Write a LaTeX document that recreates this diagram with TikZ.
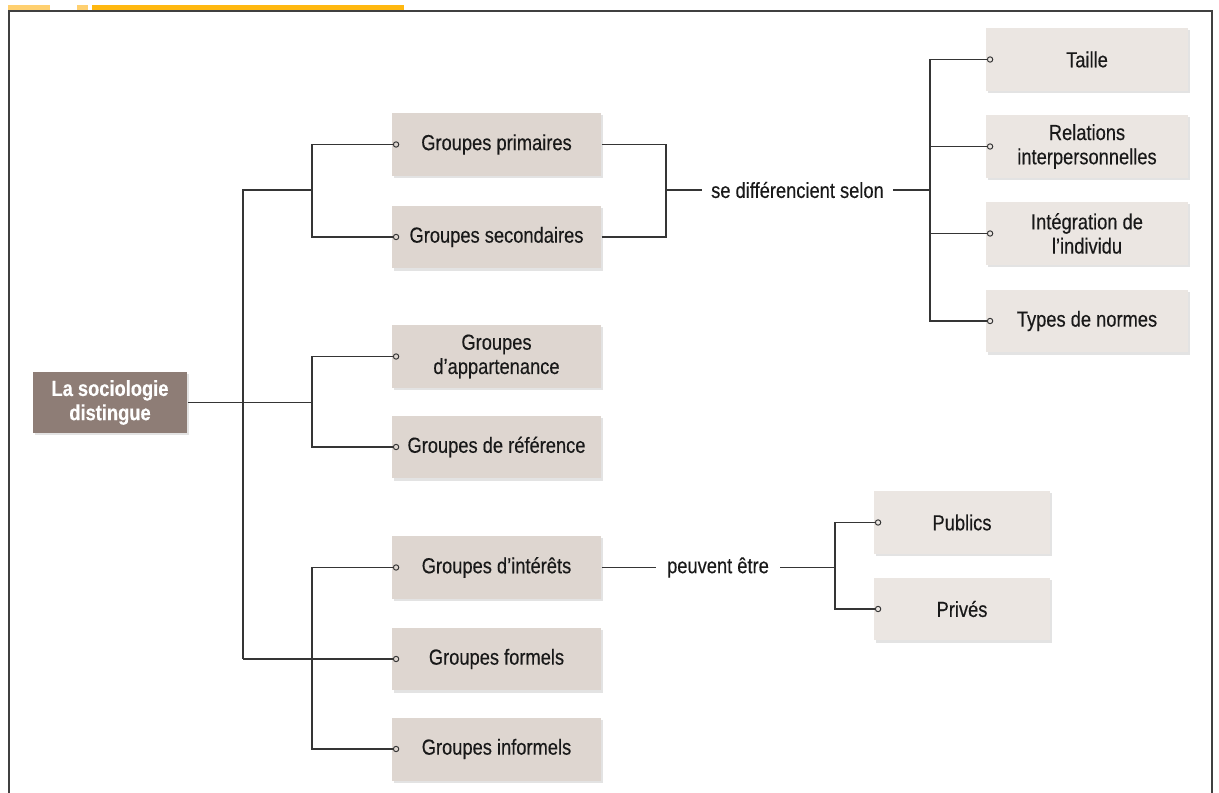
\documentclass[tikz,border=0pt]{standalone}
\usepackage{fontspec}
\setmainfont{Liberation Sans}[FakeStretch=0.84, FakeBold=0.3]
\usetikzlibrary{arrows.meta,shadows}

\definecolor{rootcol}{HTML}{8E7D76}
\definecolor{boxa}{HTML}{DED6D0}
\definecolor{boxb}{HTML}{EBE6E2}
\definecolor{linecol}{HTML}{353535}
\definecolor{stripa}{HTML}{FFD070}
\definecolor{stripb}{HTML}{FFB810}
\newcommand{\shadinga}{boxa}
\newcommand{\shadingb}{boxb}
\newcommand{\txtsize}{\fontsize{12.4}{13.8}\selectfont}
\tikzset{every path/.style={line width=.8pt}}
\tikzset{
  grp/.style={fill=\shadinga, minimum width=4.18cm, minimum height=1.26cm, align=center,
    font=\txtsize, text=black!90, drop shadow={shadow xshift=1.2pt, shadow yshift=-1.2pt, fill=black!22}},
  crit/.style={grp, fill=\shadingb, minimum width=4.04cm},
  kind/.style={grp, fill=\shadingb, minimum width=3.52cm},
  rootbox/.style={fill=rootcol, text=white, minimum width=3.08cm, minimum height=1.22cm, align=center,
    font=\txtsize\bfseries, drop shadow={shadow xshift=1.2pt, shadow yshift=-1.2pt, fill=black!22}},
  link/.style={font=\txtsize, text=black!90, inner xsep=5pt},
  conn/.style={draw=linecol},
  tip/.style={conn, -{Circle[open,length=3.6pt,width=3.6pt,line width=.55pt]}}
}

\begin{document}
\begin{tikzpicture}[x=0.02cm, y=-0.02cm]
\useasboundingbox (0,0) rectangle (1219,793);

%frame
\fill[stripa] (8,5) rectangle (50,10);
\fill[stripa] (77,5) rectangle (88,10);
\fill[stripb] (92,5) rectangle (404,10);
\draw[line width=1pt, black!75] (9,793) -- (9,11) -- (1212,11) -- (1212,793);

%boxes
\node[rootbox] (soc) at (110,402.5) {La sociologie\\distingue};
\node[grp] (prim) at (496.5,144.5) {Groupes primaires};
\node[grp] (sec) at (496.5,237) {Groupes secondaires};
\node[grp] (app) at (496.5,356.5) {Groupes\\d’appartenance};
\node[grp] (ref) at (496.5,447) {Groupes de référence};
\node[grp] (int) at (496.5,567.5) {Groupes d’intérêts};
\node[grp] (form) at (496.5,659) {Groupes formels};
\node[grp] (inf) at (496.5,749) {Groupes informels};

\node[crit] (taille) at (1087,59.5) {Taille};
\node[crit] (rel) at (1087,146.5) {Relations\\interpersonnelles};
\node[crit] (integ) at (1087,233.5) {Intégration de\\l’individu};
\node[crit] (norm) at (1087,321) {Types de normes};

\node[kind] (pub) at (962,522.5) {Publics};
\node[kind] (priv) at (962,609) {Privés};

\node[link] (sel) at (797.5,190) {se différencient selon};
\node[link, inner xsep=6pt] (peut) at (718,567.5) {peuvent être};

%left tree
\coordinate (ja) at (312,402.5);
\coordinate (jb) at (312,190);
\coordinate (jc) at (243,659);
\coordinate (jd) at (312,659);
\draw[conn] (soc) -- (ja);
\draw[tip] (ja) |- ([xshift=4.5pt]app.west);
\draw[tip] (ja) |- ([xshift=4.5pt]ref.west);
\draw[conn] (jb) -| (jc);
\draw[tip] (jb) |- ([xshift=4.5pt]prim.west);
\draw[tip] (jb) |- ([xshift=4.5pt]sec.west);
\draw[tip] (jc) -- ([xshift=4.5pt]form.west);
\draw[tip] (jd) |- ([xshift=4.5pt]int.west);
\draw[tip] (jd) |- ([xshift=4.5pt]inf.west);

%right tree
\coordinate (je) at (666,190);
\coordinate (jf) at (930,190);
\draw[conn] (prim.east) -| (je);
\draw[conn] (sec.east) -| (je);
\draw[conn] (je) -- (sel);
\draw[conn] (sel) -- (jf);
\draw[tip] (jf) |- ([xshift=4.5pt]taille.west);
\draw[tip] (jf) |- ([xshift=4.5pt]rel.west);
\draw[tip] (jf) |- ([xshift=4.5pt]integ.west);
\draw[tip] (jf) |- ([xshift=4.5pt]norm.west);

\coordinate (jg) at (835,567.5);
\draw[conn] (int.east) -- (peut);
\draw[conn] (peut) -- (jg);
\draw[tip] (jg) |- ([xshift=4.5pt]pub.west);
\draw[tip] (jg) |- ([xshift=4.5pt]priv.west);
\end{tikzpicture}
\end{document}
